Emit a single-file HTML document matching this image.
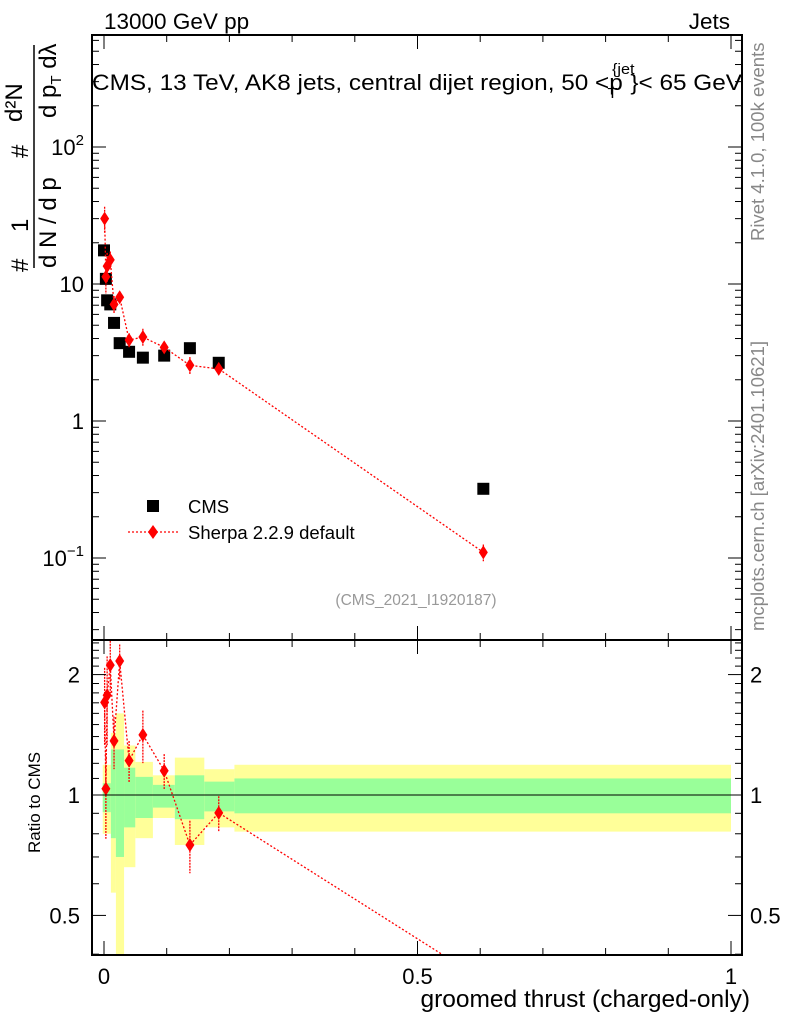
<!DOCTYPE html>
<html><head><meta charset="utf-8"><style>
html,body{margin:0;padding:0;background:#fff;}
svg{display:block;font-family:"Liberation Sans",sans-serif;}
</style></head><body>
<svg id="c" width="786" height="1024" viewBox="0 0 786 1024" xmlns="http://www.w3.org/2000/svg">
<g id="bands"></g>
<g id="marks"></g>
<g id="axes"></g>
<text x="104" y="29" font-size="22.5">13000 GeV pp</text>
<text x="730" y="29" font-size="22.5" text-anchor="end">Jets</text>
<text x="92" y="90" font-size="22.5" textLength="650" lengthAdjust="spacingAndGlyphs">CMS, 13 TeV, AK8 jets, central dijet region, 50 &lt;p<tspan font-size="15" dy="-16" dx="-10">{jet</tspan><tspan font-size="15" dy="24" dx="-25">T</tspan><tspan dy="-8" dx="12">}&lt; 65 GeV</tspan></text>
<text x="92" y="90" font-size="22.5" fill="none"></text>
<text transform="translate(764,241) rotate(-90)" font-size="18.5" fill="#888">Rivet 4.1.0,  100k events</text>
<text transform="translate(764,631) rotate(-90)" font-size="18.5" fill="#888">mcplots.cern.ch [arXiv:2401.10621]</text>
<g font-size="24">
<text transform="translate(28,272) rotate(-90)">#</text>
<text transform="translate(28,232) rotate(-90)">1</text>
<line x1="34" y1="45" x2="34" y2="268" stroke="#000" stroke-width="1.5"/>
<text transform="translate(56,268) rotate(-90)">d N / d p</text>
<text transform="translate(28,158) rotate(-90)">#</text>
<text transform="translate(22,122) rotate(-90)">d²N</text>
<text transform="translate(56,118) rotate(-90)">d p<tspan font-size="15" dy="5">T</tspan><tspan dy="-5"> dλ</tspan></text>
</g>
<text transform="translate(40,853) rotate(-90)" font-size="17">Ratio to CMS</text>
<text x="750" y="1007" font-size="24.5" text-anchor="end">groomed thrust (charged-only)</text>
<text x="416" y="605" font-size="15.5" fill="#999" text-anchor="middle">(CMS_2021_I1920187)</text>
<g>
<rect x="147" y="500" width="12" height="12" fill="#000"/>
<text x="188" y="513" font-size="18.5">CMS</text>
<line x1="128" y1="532" x2="178" y2="532" stroke="red" stroke-width="1.3" stroke-dasharray="2,2"/>
<polygon points="153,525 158,532 153,539 148,532" fill="red"/>
<text x="188" y="539" font-size="18.5">Sherpa 2.2.9 default</text>
</g>
</svg>
<script>
const xVals=[0.0,0.003,0.005,0.01,0.016,0.025,0.04,0.062,0.096,0.137,0.183,0.605];
const cmsVals=[17.6,10.9,7.6,7.1,5.2,3.7,3.2,2.9,3.0,3.4,2.66,0.32];
const sherpaX=[0.001,0.003,0.005,0.01,0.016,0.025,0.04,0.062,0.096,0.137,0.183,0.605];
const sherpaVals=[30,11.3,13.5,15,7.1,8.0,3.9,4.1,3.45,2.55,2.4,0.11];
const sherpaRelErr=[0.22,0.25,0.25,0.15,0.15,0.1,0.12,0.15,0.1,0.15,0.1,0.14];
const bandEdges=[-0.002,0.011,0.019,0.032,0.050,0.078,0.113,0.160,0.208,1.0];
const yelHi=[1.19,1.43,1.60,1.33,1.21,1.12,1.24,1.16,1.19];
const yelLo=[0.80,0.57,0.40,0.66,0.78,0.876,0.75,0.83,0.81];
const grnHi=[1.07,1.30,1.30,1.17,1.11,1.06,1.12,1.08,1.10];
const grnLo=[0.906,0.78,0.70,0.83,0.876,0.93,0.87,0.91,0.90];
const xTicks=[0,0.5,1];
const xTickLabels=["0","0.5","1"];
const yTicks=[100,10,1,0.1];
const ratioTicks=[2,1,0.5];
const ratioTickLabels=["2","1","0.5"];

const NS="http://www.w3.org/2000/svg";
const L=92,R=742,T=35,M=640,B=955;
const X=v=>104+v*627;
const Y=v=>421-Math.log10(v)*137;
const YR=v=>795-Math.log10(v)*400;
function mk(p,tag,at){const e=document.createElementNS(NS,tag);for(const k in at)e.setAttribute(k,at[k]);p.appendChild(e);return e;}
const bands=document.getElementById('bands'),marks=document.getElementById('marks'),axes=document.getElementById('axes');
const defs=mk(document.getElementById('c'),'defs',{});
const cp1=mk(defs,'clipPath',{id:'cu'});mk(cp1,'rect',{x:L,y:T,width:R-L,height:M-T});
const cp2=mk(defs,'clipPath',{id:'cl'});mk(cp2,'rect',{x:L,y:M,width:R-L,height:B-M});
bands.setAttribute('clip-path','url(#cl)');
for(let i=0;i<bandEdges.length-1;i++){
 const x0=X(bandEdges[i]),x1=X(bandEdges[i+1]);
 let e=mk(bands,'rect',{x:x0,y:YR(yelHi[i]),width:x1-x0,height:YR(yelLo[i])-YR(yelHi[i]),fill:'#ffff99'});
 
 
 e=mk(bands,'rect',{x:x0,y:YR(grnHi[i]),width:x1-x0,height:YR(grnLo[i])-YR(grnHi[i]),fill:'#99ff99'});
 
 
}
mk(axes,'line',{x1:L,y1:YR(1),x2:R,y2:YR(1),stroke:'#000','stroke-width':1});
const gu=mk(marks,'g',{'clip-path':'url(#cu)'});
for(let i=0;i<xVals.length;i++){
 const e=mk(gu,'rect',{x:X(xVals[i])-6,y:Y(cmsVals[i])-6,width:12,height:12,fill:'#000'});
 
 
}
function diamond(g,x,y){return mk(g,'polygon',{points:`${x},${y-7} ${x+4.5},${y} ${x},${y+7} ${x-4.5},${y}`,fill:'red'});}
let pts=sherpaX.map((x,i)=>X(x)+','+Y(sherpaVals[i])).join(' ');
let pl=mk(gu,'polyline',{points:pts,fill:'none',stroke:'red','stroke-width':1.3,'stroke-dasharray':'2,2'});


for(let i=0;i<sherpaX.length;i++){
 const x=X(sherpaX[i]),v=sherpaVals[i],er=sherpaRelErr[i];
 mk(gu,'line',{x1:x,x2:x,y1:Y(v*(1+er)),y2:Y(v*(1-er)),stroke:'red','stroke-width':1.3,'stroke-dasharray':'2,1'});
 const e=diamond(gu,x,Y(v));
 
 
}
const gl=mk(marks,'g',{'clip-path':'url(#cl)'});
const ratios=sherpaVals.map((v,i)=>v/cmsVals[i]);
pts=sherpaX.map((x,i)=>X(x)+','+YR(ratios[i])).join(' ');
pl=mk(gl,'polyline',{points:pts,fill:'none',stroke:'red','stroke-width':1.3,'stroke-dasharray':'2,2'});


for(let i=0;i<sherpaX.length;i++){
 const x=X(sherpaX[i]),v=ratios[i],er=sherpaRelErr[i];
 mk(gl,'line',{x1:x,x2:x,y1:YR(v*(1+er)),y2:YR(v*(1-er)),stroke:'red','stroke-width':1.3,'stroke-dasharray':'2,1'});
 const e=diamond(gl,x,YR(v));
 
 
}
mk(axes,'rect',{x:L,y:T,width:R-L,height:M-T,fill:'none',stroke:'#000','stroke-width':2});
mk(axes,'rect',{x:L,y:M,width:R-L,height:B-M,fill:'none',stroke:'#000','stroke-width':2});
for(let v=0;v<=1.0001;v+=0.1){
 const x=X(v),big=Math.abs(v*2-Math.round(v*2))<1e-6,len=big?14:7;
 for(const [a,b] of [[T,1],[M,-1],[M,1],[B,-1]]) mk(axes,'line',{x1:x,x2:x,y1:a,y2:a+b*len,stroke:'#000','stroke-width':1});
}
xTicks.forEach((v,i)=>{const t=mk(axes,'text',{x:X(v),y:984,'font-size':22,'text-anchor':'middle'});t.textContent=xTickLabels[i];
 
 });
for(let d=-2;d<=2;d++)for(let k=1;k<10;k++){
 const v=k*Math.pow(10,d),y=Y(v);if(y<T||y>M)continue;
 const len=k==1?14:7;
 mk(axes,'line',{x1:L,x2:L+len,y1:y,y2:y,stroke:'#000'});
 mk(axes,'line',{x1:R,x2:R-len,y1:y,y2:y,stroke:'#000'});
}
yTicks.forEach(v=>{
 const t=mk(axes,'text',{x:84,y:Y(v)+8,'font-size':22,'text-anchor':'end'});
 const e=Math.round(Math.log10(v));
 if(e==0)t.textContent='1';else if(e==1)t.textContent='10';
 else{t.textContent='10';const s=mk(t,'tspan',{dy:-10,'font-size':15});s.textContent=String(e).replace('-','−');}
 
 
});
for(let v=0.4;v<=2.45;v+=0.1){
 const y=YR(v);if(y<M||y>B)continue;
 const big=[0.5,1,2].some(b=>Math.abs(b-v)<1e-6),len=big?14:7;
 mk(axes,'line',{x1:L,x2:L+len,y1:y,y2:y,stroke:'#000'});
 mk(axes,'line',{x1:R,x2:R-len,y1:y,y2:y,stroke:'#000'});
}
ratioTicks.forEach((v,i)=>{
 for(const [x,a] of [[80,'end'],[750,'start']]){
  const t=mk(axes,'text',{x:x,y:YR(v)+8,'font-size':22,'text-anchor':a});t.textContent=ratioTickLabels[i];
  
  
 }
});
</script>
</body></html>
